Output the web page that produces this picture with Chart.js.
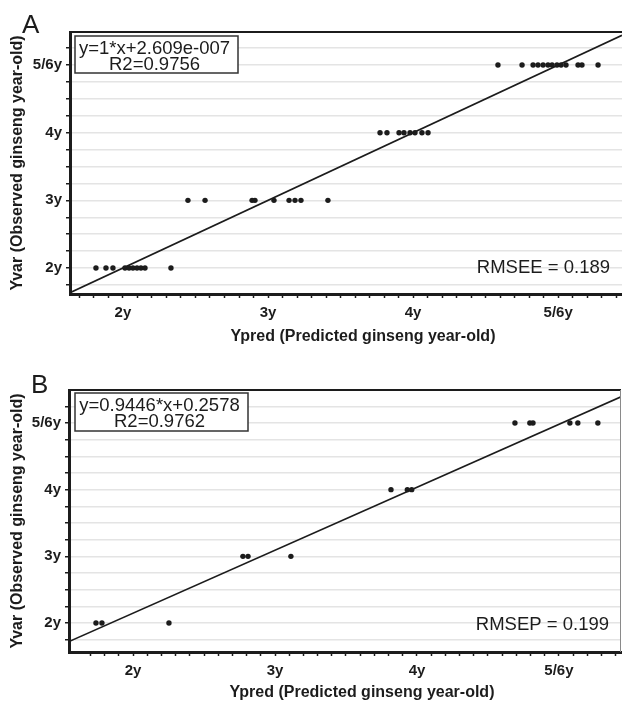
<!DOCTYPE html>
<html>
<head>
<meta charset="utf-8">
<title>Ginseng age prediction</title>
<script src="https://cdn.jsdelivr.net/npm/chart.js@4.4.1/dist/chart.umd.min.js"></script>
<style>
  html, body { margin: 0; padding: 0; background: #fff; }
  #wrap { position: relative; width: 622px; height: 701px; overflow: hidden; }
  canvas { position: absolute; left: 0; }
  #calib { top: 0; }
  #valid { top: 350px; }
</style>
</head>
<body>
<div id="wrap">
  <canvas id="calib" width="622" height="350"></canvas>
  <canvas id="valid" width="622" height="351"></canvas>
</div>
<script>
// observed age classes and their axis labels
const ageValues = [2, 3, 4, 5];
const ageLabels = ['2y', '3y', '4y', '5/6y'];

// calibration set (A): predicted age, grouped by observed class
const calPred2 = [1.814, 1.883, 1.931, 2.014, 2.042, 2.069, 2.097, 2.124, 2.152, 2.331];
const calPred3 = [2.448, 2.566, 2.890, 2.910, 3.041, 3.145, 3.186, 3.227, 3.413];
const calPred4 = [3.772, 3.820, 3.903, 3.937, 3.979, 4.013, 4.061, 4.103];
const calPred5 = [4.585, 4.751, 4.827, 4.861, 4.896, 4.930, 4.958, 4.992, 5.020, 5.054, 5.137, 5.164, 5.275];

// validation set (B)
const valPred2 = [1.739, 1.781, 2.253];
const valPred3 = [2.774, 2.810, 3.112];
const valPred4 = [3.817, 3.932, 3.963];
const valPred5 = [4.690, 4.795, 4.817, 5.077, 5.133, 5.274];

// fitted lines and statistics
const fitSlope = [1, 0.9446];
const fitIntercept = [2.609e-7, 0.2578];
const fitText = ['y=1*x+2.609e-007', 'y=0.9446*x+0.2578'];
const r2Text = ['R2=0.9756', 'R2=0.9762'];
const errText = ['RMSEE = 0.189', 'RMSEP = 0.199'];

const sans = '"Liberation Sans", Arial, Helvetica, sans-serif';
const ink = '#1c1c1c';

function steps(from, to, step) {
  const out = [];
  for (let v = from; v <= to + 1e-9; v += step) out.push(Math.round(v * 100) / 100);
  return out;
}
const xTicks = steps(1.7, 5.4, 0.1);
const yTicks = steps(1.75, 5.25, 0.25);

function ageLabel(v) {
  const i = ageValues.findIndex(a => Math.abs(a - v) < 1e-6);
  return i < 0 ? '' : ageLabels[i];
}

function toPoints(groups) {
  const pts = [];
  groups.forEach((g, i) => g.forEach(x => pts.push({x: x, y: ageValues[i]})));
  return pts;
}

// letter, equation box, error label, frame and x title
const panelDecor = {
  id: 'panelDecor',
  afterDraw(chart, args, o) {
    const {ctx, chartArea: a} = chart;
    ctx.save();
    // top frame line
    ctx.strokeStyle = ink;
    ctx.lineWidth = 2;
    ctx.beginPath();
    ctx.moveTo(a.left, a.top);
    ctx.lineTo(a.right, a.top);
    ctx.stroke();
    if (o.rightFrame) {
      ctx.strokeStyle = '#8a8a8a';
      ctx.lineWidth = 1;
      ctx.beginPath();
      ctx.moveTo(a.right - 0.5, a.top);
      ctx.lineTo(a.right - 0.5, a.bottom);
      ctx.stroke();
    }
    // equation box
    const b = o.box;
    ctx.fillStyle = '#fff';
    ctx.fillRect(b.x, b.y, b.w, b.h);
    ctx.strokeStyle = '#333';
    ctx.lineWidth = 1.5;
    ctx.strokeRect(b.x, b.y, b.w, b.h);
    ctx.fillStyle = ink;
    ctx.font = '18.5px ' + sans;
    ctx.textAlign = 'center';
    ctx.textBaseline = 'alphabetic';
    ctx.fillText(fitText[o.idx], b.x + b.w / 2 - 2, b.y + 18);
    ctx.fillText(r2Text[o.idx], b.x + b.w / 2 - 2, b.y + 34);
    // error label
    ctx.textAlign = 'right';
    ctx.fillText(errText[o.idx], a.right - 12, a.bottom - o.errLift);
    // panel letter
    ctx.textAlign = 'left';
    ctx.font = '26px ' + sans;
    ctx.fillText(o.letter, o.letterX, o.letterY);
    // x axis title
    ctx.textAlign = 'center';
    ctx.textBaseline = 'middle';
    ctx.font = 'bold 16px ' + sans;
    ctx.fillText('Ypred (Predicted ginseng year-old)', (a.left + a.right) / 2 + 17, o.xTitleY);
    ctx.restore();
  }
};

function makePanel(canvasId, idx, groups, range, geo) {
  const slope = fitSlope[idx], icpt = fitIntercept[idx];
  const line = [
    {x: range.xMin, y: slope * range.xMin + icpt},
    {x: range.xMax, y: slope * range.xMax + icpt}
  ];
  return new Chart(document.getElementById(canvasId), {
    data: {
      datasets: [{
        type: 'scatter',
        data: toPoints(groups),
        pointRadius: 2.7,
        pointBackgroundColor: ink,
        pointBorderWidth: 0
      }, {
        type: 'line',
        data: line,
        borderColor: ink,
        borderWidth: 1.6,
        pointRadius: 0,
        fill: false
      }]
    },
    options: {
      responsive: false,
      animation: false,
      events: [],
      layout: {padding: geo.padding, autoPadding: false},
      scales: {
        x: {
          type: 'linear',
          min: range.xMin,
          max: range.xMax,
          afterBuildTicks: s => { s.ticks = xTicks.map(v => ({value: v})); },
          afterFit: s => {
            s.height = geo.xAxisHeight;
            s.paddingLeft = 0;
            s.paddingRight = 0;
          },
          ticks: {
            autoSkip: false,
            maxRotation: 0,
            padding: 6,
            color: ink,
            font: {family: sans, size: 15, weight: 'bold'},
            callback: v => ageLabel(v)
          },
          grid: {drawOnChartArea: false, tickLength: 4, tickColor: ink, tickWidth: 1.5},
          border: {color: ink, width: 3}
        },
        y: {
          type: 'linear',
          min: range.yMin,
          max: range.yMax,
          afterBuildTicks: s => { s.ticks = yTicks.map(v => ({value: v})); },
          afterFit: s => {
            s.width = geo.yAxisWidth;
            s.paddingTop = 0;
            s.paddingBottom = 0;
          },
          ticks: {
            autoSkip: false,
            padding: 4,
            color: ink,
            font: {family: sans, size: 15, weight: 'bold'},
            callback: v => ageLabel(v)
          },
          grid: {color: '#e4e4e4', lineWidth: 1.5, tickLength: 4, tickColor: ink, tickWidth: 1.5},
          border: {color: ink, width: 3},
          title: {
            display: true,
            text: 'Yvar (Observed ginseng year-old)',
            color: ink,
            font: {family: sans, size: 16, weight: 'bold', lineHeight: 1},
            padding: {top: 10, bottom: 0}
          }
        }
      },
      plugins: {
        legend: {display: false},
        tooltip: {enabled: false},
        panelDecor: geo.decor
      }
    },
    plugins: [panelDecor]
  });
}

makePanel('calib', 0, [calPred2, calPred3, calPred4, calPred5],
  {xMin: 1.635, xMax: 5.44, yMin: 1.616, yMax: 5.488},
  {
    padding: {top: 32, left: 0, right: 0, bottom: 0},
    yAxisWidth: 70,
    xAxisHeight: 56,
    decor: {
      idx: 0, letter: 'A', letterX: 22, letterY: 33,
      box: {x: 75, y: 36, w: 163, h: 37},
      errLift: 21, xTitleY: 337, rightFrame: false
    }
  });

makePanel('valid', 1, [valPred2, valPred3, valPred4, valPred5],
  {xMin: 1.549, xMax: 5.437, yMin: 1.565, yMax: 5.495},
  {
    padding: {top: 40, left: 0, right: 1, bottom: 0},
    yAxisWidth: 69,
    xAxisHeight: 49,
    decor: {
      idx: 1, letter: 'B', letterX: 31, letterY: 43,
      box: {x: 75, y: 43, w: 173, h: 38},
      errLift: 22, xTitleY: 343, rightFrame: true
    }
  });
</script>
</body>
</html>
